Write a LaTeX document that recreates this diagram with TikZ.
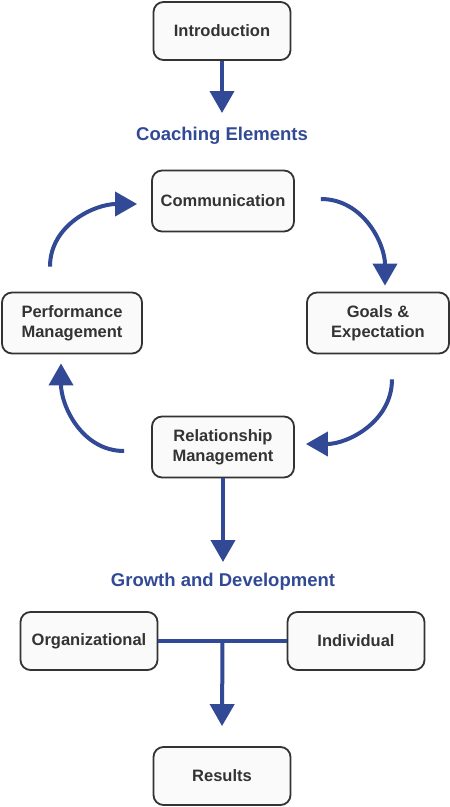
\documentclass[tikz,border=0pt]{standalone}
\usepackage{fontspec}
\setmainfont{Liberation Sans}
\usetikzlibrary{arrows.meta,calc}
\definecolor{flowblue}{RGB}{50,74,150}
\definecolor{boxgray}{RGB}{51,51,51}
\begin{document}
\begin{tikzpicture}[x=1pt,y=-1pt,
	box/.style={draw=boxgray,fill=white!98!black,line width=1.8pt,rounded corners=10pt,
		minimum width=137pt,minimum height=58pt,align=center,text=boxgray,
		font=\fontsize{16.5}{20}\selectfont\bfseries},
	widebox/.style={box,minimum width=142pt,minimum height=61pt},
	heading/.style={text=flowblue,font=\fontsize{18.5}{22}\selectfont\bfseries},
	flow/.style={draw=flowblue,line width=4pt,-{Triangle[length=22pt,width=24pt]}},
	link/.style={draw=flowblue,line width=4pt}]
	\useasboundingbox (0,0) rectangle (450,807);
	\node[box] (intro) at (222,31) {Introduction};
	\node[heading] (coach) at (222,136) {Coaching Elements};
	\node[widebox] (comm) at (223,201) {Communication};
	\node[widebox,minimum width=140pt] (perf) at (72,323) {Performance\\Management};
	\node[widebox] (goals) at (378,323) {Goals \&\\Expectation};
	\node[widebox] (rel) at (223,447) {Relationship\\Management};
	\node[heading] (growth) at (223,582) {Growth and Development};
	\node[box] (org) at (89,641) {Organizational};
	\node[box] (indiv) at (356,641) {Individual};
	\node[box] (results) at (222,776) {Results};
	\draw[flow] (intro.south) -- ([yshift=23pt]coach.center);
	\draw[flow] ([shift={(-22,-25)}]perf.north) to[out=90,in=180] ([shift={(-14,3)}]comm.west);
	\draw[flow] ([shift={(26,-2)}]comm.east) to[out=0,in=90] ([shift={(7,-6)}]goals.north);
	\draw[flow] ([shift={(14,25)}]goals.south) to[out=270,in=0] ([shift={(11,-3)}]rel.east);
	\draw[flow] ([shift={(-27,4)}]rel.west) to[out=180,in=270] ([shift={(-11,9)}]perf.south);
	\draw[flow] (rel.south) -- ([yshift=20pt]growth.center);
	\draw[link] (org.east) -- (indiv.west);
	\coordinate (tee) at ($(org.east)!0.5!(indiv.west)$);
	\draw[flow] (tee) -- ([yshift=20pt]results.north);
\end{tikzpicture}
\end{document}
